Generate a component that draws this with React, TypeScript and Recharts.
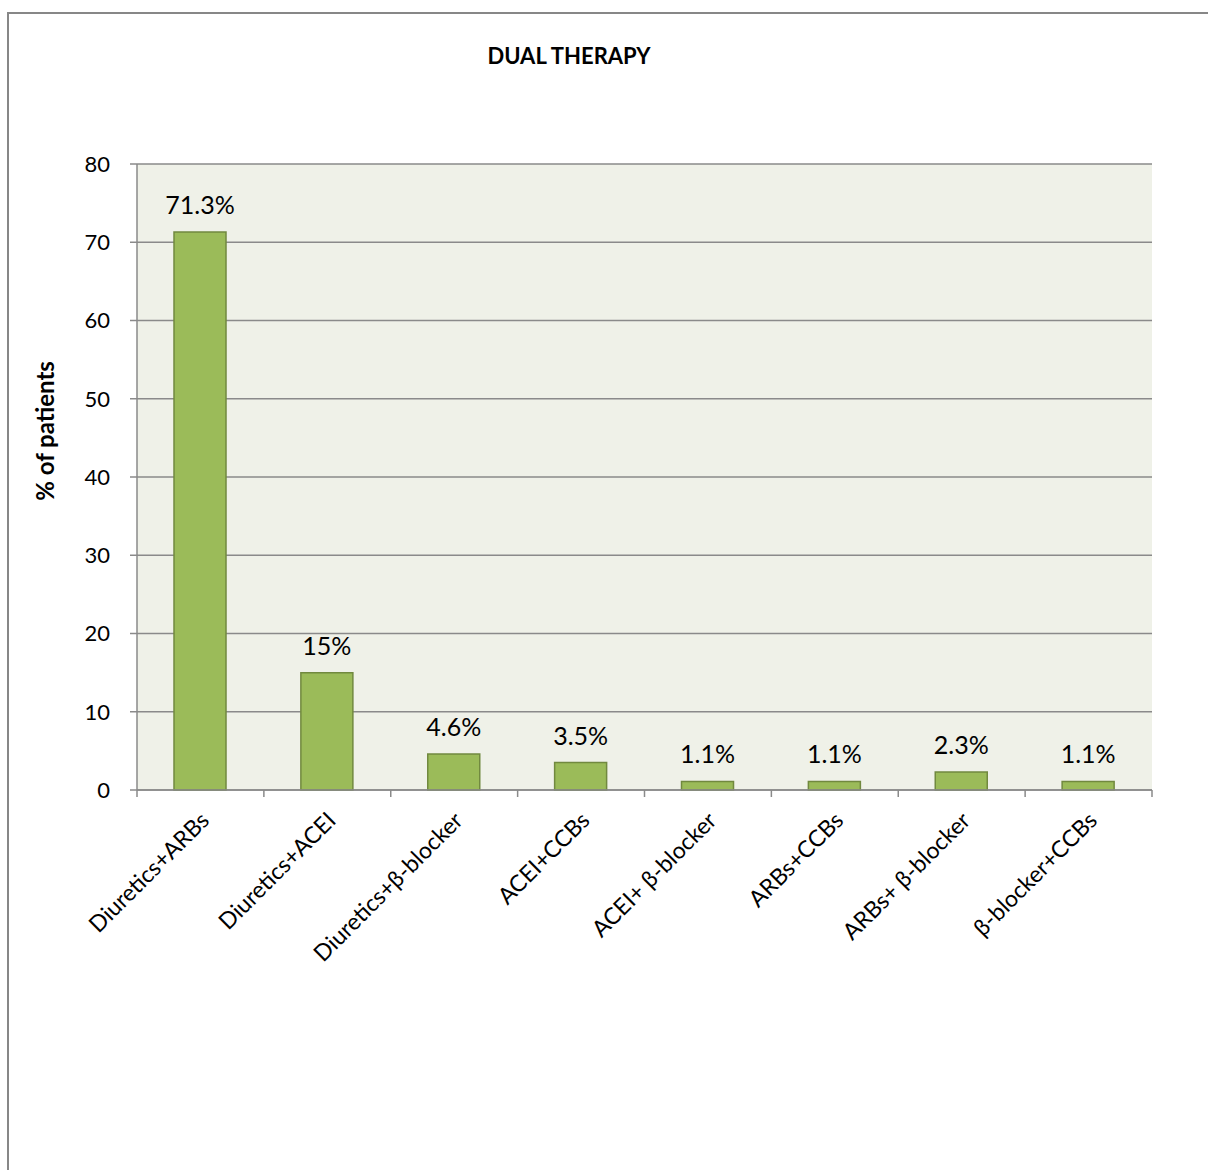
import { BarChart, Bar, XAxis, YAxis, CartesianGrid, LabelList, Label } from "recharts";

const categories = [
  "Diuretics+ARBs",
  "Diuretics+ACEI",
  "Diuretics+β-blocker",
  "ACEI+CCBs",
  "ACEI+ β-blocker",
  "ARBs+CCBs",
  "ARBs+ β-blocker",
  "β-blocker+CCBs",
];
const percents = [71.3, 15, 4.6, 3.5, 1.1, 1.1, 2.3, 1.1];
const pctLabels = ["71.3%", "15%", "4.6%", "3.5%", "1.1%", "1.1%", "2.3%", "1.1%"];
const yTicks = [0, 10, 20, 30, 40, 50, 60, 70, 80];

const data = categories.map((name, i) => ({ name, value: percents[i], label: pctLabels[i] }));

const W = 1208;
const H = 1170;
const PLOT_LEFT = 137;
const PLOT_RIGHT = 1152;
const PLOT_TOP = 164;
const PLOT_BOTTOM = 790;
const X_AXIS_H = 40;
const FONT = "Lato, 'Open Sans', sans-serif";
const GRID = "#8a8a8a";

const band = (PLOT_RIGHT - PLOT_LEFT) / categories.length;

function CategoryTick(props: any) {
  const { x, payload, index } = props;
  const y0 = PLOT_BOTTOM;
  const left = x - band / 2;
  const right = x + band / 2;
  const tx = x + 10;
  const ty = y0 + 32;
  return (
    <g>
      <line x1={left} y1={y0} x2={left} y2={y0 + 7} stroke={GRID} strokeWidth={1.5} />
      {index === categories.length - 1 && (
        <line x1={right} y1={y0} x2={right} y2={y0 + 7} stroke={GRID} strokeWidth={1.5} />
      )}
      <text
        x={tx}
        y={ty}
        textAnchor="end"
        transform={`rotate(-45, ${tx}, ${ty})`}
        fontFamily={FONT}
        fontSize={23}
        fill="#000"
      >
        {payload.value}
      </text>
    </g>
  );
}

export default function App() {
  return (
    <div style={{ position: "absolute", left: 0, top: 0, width: W, height: H, background: "#fff", overflow: "hidden" }}>
      <div
        style={{
          position: "absolute",
          left: 7,
          top: 12,
          width: W,
          height: H,
          borderLeft: "2px solid #878787",
          borderTop: "2px solid #878787",
        }}
      />
      <div
        style={{
          position: "absolute",
          left: 569,
          top: 42,
          transform: "translateX(-50%)",
          fontFamily: FONT,
          fontWeight: "bold",
          fontSize: 22,
          whiteSpace: "nowrap",
        }}
      >
        DUAL THERAPY
      </div>
      <div style={{ position: "absolute", left: 0, top: 0 }}>
        <BarChart
          width={W}
          height={H}
          data={data}
          margin={{ top: PLOT_TOP, right: W - PLOT_RIGHT, bottom: H - PLOT_BOTTOM - X_AXIS_H, left: 0 }}
          barSize={52}
        >
          <CartesianGrid fill="#eff1e8" stroke={GRID} strokeWidth={1.5} vertical={false} horizontalValues={yTicks} />
          <XAxis
            dataKey="name"
            height={X_AXIS_H}
            interval={0}
            axisLine={{ stroke: GRID, strokeWidth: 1.5 }}
            tickLine={false}
            tick={<CategoryTick />}
          />
          <YAxis
            width={PLOT_LEFT}
            domain={[0, 80]}
            ticks={yTicks}
            interval={0}
            axisLine={{ stroke: GRID, strokeWidth: 1.5 }}
            tickLine={{ stroke: GRID, strokeWidth: 1.5 }}
            tickSize={7}
            tickMargin={20}
            tick={{ fontFamily: FONT, fontSize: 22, fill: "#000" }}
          >
            <Label
              value="% of patients"
              angle={-90}
              position="insideLeft"
              content={() => (
                <text
                  x={44}
                  y={431}
                  transform="rotate(-90, 44, 431)"
                  textAnchor="middle"
                  dominantBaseline="central"
                  fontFamily={FONT}
                  fontWeight="bold"
                  fontSize={24}
                  fill="#000"
                >
                  % of patients
                </text>
              )}
            />
          </YAxis>
          <Bar dataKey="value" fill="#9bbb59" stroke="#71893f" strokeWidth={1.5} isAnimationActive={false}>
            <LabelList dataKey="label" position="top" offset={18} fontFamily={FONT} fontSize={25} fill="#000" />
          </Bar>
        </BarChart>
      </div>
    </div>
  );
}
